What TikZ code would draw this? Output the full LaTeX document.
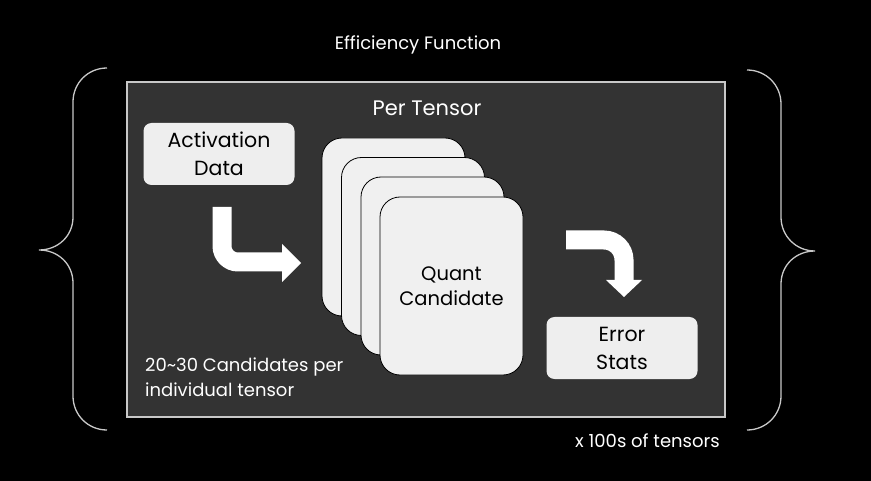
\documentclass[tikz,border=0pt]{standalone}
\usepackage{fontspec}
\setmainfont{Poppins}
\usepackage{tikz}
\usetikzlibrary{arrows.meta,positioning,calc}
\definecolor{frame}{HTML}{333333}
\definecolor{rim}{HTML}{C8C8C8}
\definecolor{boxgray}{HTML}{EEEEEE}
\definecolor{cardgray}{HTML}{F0F0F0}

\begin{document}
\begin{tikzpicture}[x=1pt,y=-1pt,
  box/.style={rectangle,rounded corners=8pt,fill=boxgray,minimum width=151pt,minimum height=62pt,
    align=center,font=\fontsize{20.5}{28}\selectfont,text=black},
  card/.style={rectangle,rounded corners=20pt,fill=cardgray,draw=black,line width=0.8pt,
    minimum width=143pt,minimum height=178pt},
  flow/.style={white,line width=19pt},
  brace/.style={draw=rim,line width=1.3pt},
  label/.style={text=white,inner sep=0pt}]
  \fill[black] (0,0) rectangle (871,481);
  \useasboundingbox (0,0) rectangle (871,481);
  % outer frame
  \node[rectangle,fill=frame,draw=rim,line width=1.2pt,minimum width=598pt,minimum height=335pt] (frame) at (426,249.5) {};
  \node[label,font=\fontsize{18}{20}\selectfont] (title) at (418,45) {Efficiency Function};
  \node[label,font=\fontsize{21}{24}\selectfont] (per) at (427,108) {Per Tensor};
  % inputs and outputs
  \node[box] (act) at (219,154) {Activation\\Data};
  \node[box] (err) at (622,348) {Error\\Stats};
  % stacked candidates
  \node[card] (c1) at (393.5,227) {};
  \node[card] (c2) at (413,246.5) {};
  \node[card] (c3) at (432.5,266) {};
  \node[card,align=center,font=\fontsize{19.5}{25}\selectfont] (c4) at (451.5,286) {Quant\\Candidate};
  % bent arrows
  \coordinate (a1s) at (222,207);
  \coordinate (a1e) at (284,262);
  \draw[flow,rounded corners=16pt] (a1s) |- (a1e);
  \fill[white] (282,244) -- (301,263) -- (282,282) -- cycle;
  \coordinate (a2s) at (566,240);
  \coordinate (a2e) at (624,282);
  \draw[flow,rounded corners=20pt] (a2s) -| (a2e);
  \fill[white] (606,280) -- (642,280) -- (624,297) -- cycle;
  % notes
  \node[label,anchor=west,align=left,font=\fontsize{18}{25}\selectfont] (note) at (145,377) {20\textasciitilde30 Candidates per\\individual tensor};
  \node[label,anchor=base west,font=\fontsize{18}{20}\selectfont] (times) at (575,447) {x 100s of tensors};
  % braces
  \draw[brace] (107,68) .. controls (88,68) and (73,83) .. (73,102) -- (73,217)
    .. controls (73,236) and (58,250) .. (39,250)
    .. controls (58,250) and (73,264) .. (73,283) -- (73,396)
    .. controls (73,415) and (88,430) .. (107,430);
  \draw[brace] (747,70) .. controls (766,70) and (781,85) .. (781,104) -- (781,217)
    .. controls (781,236) and (796,251) .. (815,251)
    .. controls (796,251) and (781,265) .. (781,284) -- (781,396)
    .. controls (781,415) and (766,430) .. (747,430);
\end{tikzpicture}
\end{document}
